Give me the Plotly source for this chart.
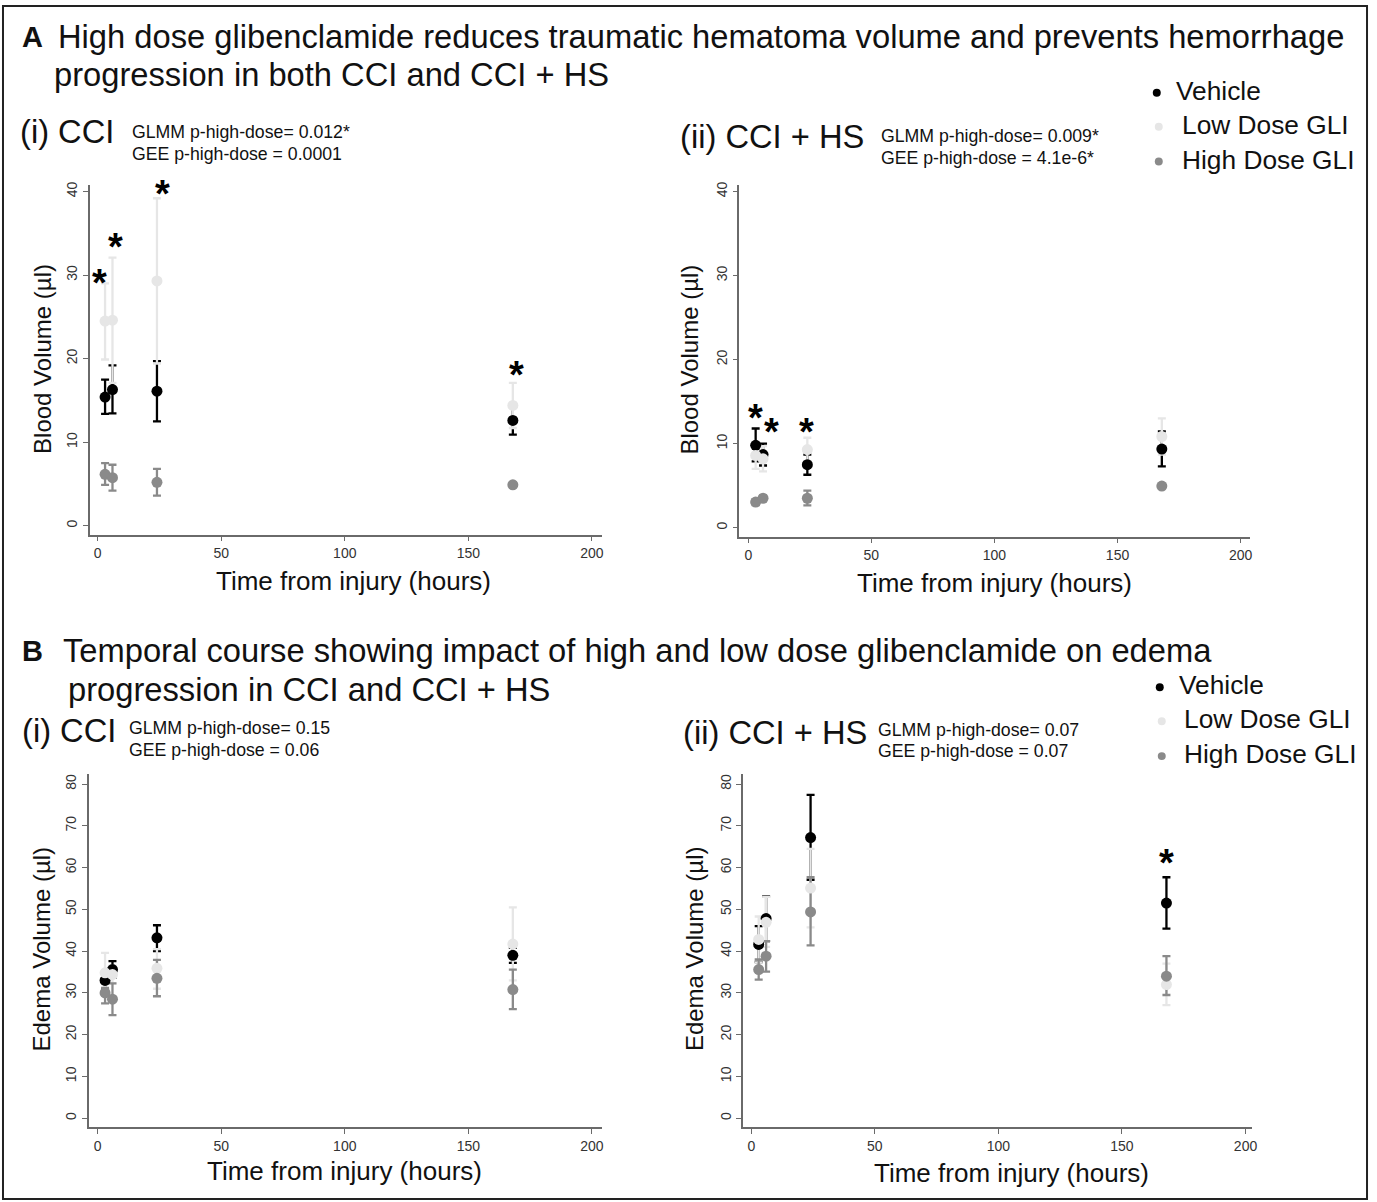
import plotly.graph_objects as go

W, H = 1377, 1202
FONT = "Liberation Sans, Arial, sans-serif"

# ---------------- data ----------------
times = [3, 6, 24, 168]
tick_x = [0, 50, 100, 150, 200]
tick_y_blood = [0, 10, 20, 30, 40]
tick_y_edema = [0, 10, 20, 30, 40, 50, 60, 70, 80]
groups = ["Vehicle", "Low Dose GLI", "High Dose GLI"]

# A (i) CCI - blood volume
a1_veh = [15.4, 16.3, 16.1, 12.6]
a1_veh_lo = [13.4, 13.45, 12.5, 10.9]
a1_veh_hi = [17.5, 19.2, 19.7, 14.3]
a1_low = [24.5, 24.6, 29.3, 14.4]
a1_low_lo = [19.9, 17.1, 19.4, 11.7]
a1_low_hi = [29.0, 32.1, 39.2, 17.1]
a1_high = [6.15, 5.75, 5.2, 4.9]
a1_high_lo = [4.9, 4.2, 3.6, 4.75]
a1_high_hi = [7.5, 7.3, 6.8, 5.05]
a1_star_t = [0.8, 7.3, 26.2, 169.4]
a1_star_v = [30.1, 34.5, 40.8, 19.1]

# A (ii) CCI + HS - blood volume
a2_veh = [9.8, 8.7, 7.5, 9.35]
a2_veh_lo = [7.9, 7.4, 6.3, 7.3]
a2_veh_hi = [11.8, 10.0, 8.7, 11.45]
a2_low = [8.6, 8.2, 9.3, 10.85]
a2_low_lo = [7.0, 6.7, 7.9, 8.7]
a2_low_hi = [10.1, 9.7, 10.7, 13.0]
a2_high = [3.05, 3.5, 3.5, 4.95]
a2_high_lo = [2.7, 3.2, 2.65, 4.8]
a2_high_hi = [3.4, 3.8, 4.4, 5.1]
a2_star_t = [2.8, 9.3, 23.5]
a2_star_v = [14.1, 12.5, 12.5]

# B (i) CCI - edema volume
b1_veh = [33.0, 35.6, 43.2, 39.0]
b1_veh_lo = [30.9, 33.6, 40.0, 37.2]
b1_veh_hi = [35.1, 37.6, 46.2, 40.8]
b1_low = [34.8, 34.4, 35.9, 41.7]
b1_low_lo = [30.0, 32.3, 31.0, 33.0]
b1_low_hi = [39.6, 36.5, 40.5, 50.5]
b1_high = [30.0, 28.5, 33.5, 30.8]
b1_high_lo = [27.5, 24.7, 29.2, 26.1]
b1_high_hi = [31.2, 32.3, 37.9, 35.6]
b1_star_t = []
b1_star_v = []

# B (ii) CCI + HS - edema volume
b2_veh = [41.6, 47.8, 67.2, 51.5]
b2_veh_lo = [37.4, 42.4, 57.1, 45.4]
b2_veh_hi = [46.0, 53.1, 77.4, 57.7]
b2_low = [42.8, 46.9, 55.1, 32.0]
b2_low_lo = [37.3, 41.0, 45.7, 27.1]
b2_low_hi = [48.3, 53.0, 64.5, 37.0]
b2_high = [35.6, 38.8, 49.4, 34.0]
b2_high_lo = [33.2, 35.1, 41.4, 29.5]
b2_high_hi = [38.0, 42.4, 57.7, 38.8]
b2_star_t = [168.1]
b2_star_v = [63.3]

COLORS = {"Vehicle": "#000000", "Low Dose GLI": "#e6e6e6", "High Dose GLI": "#8a8a8a"}
AXCOL = "#6a6a6a"


def px_x(p):
    return p / W


def px_y(p):
    return 1 - p / H


fig = go.Figure()

panels = [
    ("", [(a1_veh, a1_veh_lo, a1_veh_hi), (a1_low, a1_low_lo, a1_low_hi), (a1_high, a1_high_lo, a1_high_hi)],
     (a1_star_t, a1_star_v), (90, 604), (182, 533), (-3.23, 204.0), (-1.07, 40.84), tick_y_blood),
    ("2", [(a2_veh, a2_veh_lo, a2_veh_hi), (a2_low, a2_low_lo, a2_low_hi), (a2_high, a2_high_lo, a2_high_hi)],
     (a2_star_t, a2_star_v), (742, 1255), (182, 535), (-3.64, 204.0), (-1.07, 40.83), tick_y_blood),
    ("3", [(b1_veh, b1_veh_lo, b1_veh_hi), (b1_low, b1_low_lo, b1_low_hi), (b1_high, b1_high_lo, b1_high_hi)],
     (b1_star_t, b1_star_v), (89, 604), (773, 1127), (-3.63, 204.0), (-2.15, 82.4), tick_y_edema),
    ("4", [(b2_veh, b2_veh_lo, b2_veh_hi), (b2_low, b2_low_lo, b2_low_hi), (b2_high, b2_high_lo, b2_high_hi)],
     (b2_star_t, b2_star_v), (746, 1257), (773, 1127), (-3.23, 202.8), (-2.15, 82.4), tick_y_edema),
]

annotations = []
layout_axes = {}
for suf, series, stars, xd, yd, xr, yr, yt in panels:
    xa, ya = "x" + suf, "y" + suf
    for g, (m, lo, hi) in zip(groups, series):
        fig.add_trace(go.Scatter(
            x=times, y=m, mode="markers", xaxis=xa, yaxis=ya, showlegend=False,
            marker=dict(size=1, color="rgba(0,0,0,0)"), hoverinfo="skip",
            error_y=dict(type="data", symmetric=False,
                         array=[h - v for h, v in zip(hi, m)],
                         arrayminus=[v - l for v, l in zip(m, lo)],
                         color=COLORS[g], thickness=2.3, width=4)))
    for g, (m, lo, hi) in zip(groups, series):
        fig.add_trace(go.Scatter(
            x=times, y=m, mode="markers", xaxis=xa, yaxis=ya, name=g, showlegend=False,
            marker=dict(size=11, color=COLORS[g], line=dict(width=0))))
    for t, v in zip(*stars):
        annotations.append(dict(x=t, y=v, xref=xa, yref=ya, text="<b>*</b>", showarrow=False,
                                font=dict(family=FONT, size=38, color="#000"),
                                xanchor="center", yanchor="middle", yshift=-9))
    common = dict(showline=True, linecolor=AXCOL, linewidth=1.6, ticks="outside",
                  tickcolor=AXCOL, ticklen=5, tickwidth=1.4, showgrid=False, zeroline=False,
                  tickfont=dict(family=FONT, size=14, color="#333"))
    layout_axes["xaxis" + suf] = dict(domain=[px_x(xd[0]), px_x(xd[1])], range=list(xr),
                                      anchor=ya, tickvals=tick_x, **common)
    layout_axes["yaxis" + suf] = dict(domain=[px_y(yd[1]), px_y(yd[0])], range=list(yr),
                                      anchor=xa, tickvals=yt, tickangle=-90, **common)


def txt(x, y, s, size, anchor="left", bold=False, angle=0, color="#111"):
    if angle == 0:
        y = y - 2
    annotations.append(dict(x=px_x(x), y=px_y(y), xref="paper", yref="paper",
                            text=("<b>%s</b>" % s) if bold else s,
                            showarrow=False, xanchor=anchor, yanchor="middle", textangle=angle,
                            font=dict(family=FONT, size=size, color=color)))


TS = 32.7
SS = 17.7
LS = 26.3

# Panel A headings
txt(20, 36, "A", 29, bold=True)
txt(56, 36, "High dose glibenclamide reduces traumatic hematoma volume and prevents hemorrhage", TS)
txt(52, 74, "progression in both CCI and CCI + HS", TS)
txt(18, 131, "(i) CCI", TS)
txt(130, 131, "GLMM p-high-dose= 0.012*", SS)
txt(130, 153, "GEE p-high-dose = 0.0001", SS)
txt(680, 136, "(ii) CCI + HS", TS)
txt(882, 135, "GLMM p-high-dose= 0.009*", SS)
txt(882, 157, "GEE p-high-dose = 4.1e-6*", SS)

# Panel B headings
txt(20, 652, "B", 29, bold=True)
txt(61, 651, "Temporal course showing impact of high and low dose glibenclamide on edema", TS)
txt(66, 690, "progression in CCI and CCI + HS", TS)
txt(20, 731, "(i) CCI", TS)
txt(127, 729, "GLMM p-high-dose= 0.15", SS)
txt(127, 751, "GEE p-high-dose = 0.06", SS)
txt(683, 733, "(ii) CCI + HS", TS)
txt(879, 731, "GLMM p-high-dose= 0.07", SS)
txt(879, 752, "GEE p-high-dose = 0.07", SS)

# axis titles
txt(42, 357, "Blood Volume (µl)", 24, anchor="center", angle=-90)
txt(692, 357, "Blood Volume (µl)", 24, anchor="center", angle=-90)
txt(42, 948, "Edema Volume (µl)", 24, anchor="center", angle=-90)
txt(697, 948, "Edema Volume (µl)", 24, anchor="center", angle=-90)
txt(355, 581, "Time from injury (hours)", 26, anchor="center")
txt(998, 583, "Time from injury (hours)", 26, anchor="center")
txt(346, 1173, "Time from injury (hours)", 26, anchor="center")
txt(1015, 1175, "Time from injury (hours)", 26, anchor="center")

shapes = []
for (dx, dy, tx), g in zip([(1161, 90, 1178), (1163, 124, 1184), (1163, 159, 1184)], groups):
    r = 4
    shapes.append(dict(type="circle", xref="paper", yref="paper", x0=px_x(dx - r), x1=px_x(dx + r),
                       y0=px_y(dy + r), y1=px_y(dy - r), fillcolor=COLORS[g], line=dict(width=0)))
    txt(tx, dy, g, LS)
for (dx, dy, tx), g in zip([(1164, 686, 1181), (1166, 720, 1186), (1166, 755, 1186)], groups):
    r = 4
    shapes.append(dict(type="circle", xref="paper", yref="paper", x0=px_x(dx - r), x1=px_x(dx + r),
                       y0=px_y(dy + r), y1=px_y(dy - r), fillcolor=COLORS[g], line=dict(width=0)))
    txt(tx, dy, g, LS)

shapes.append(dict(type="rect", xref="paper", yref="paper", x0=px_x(3), x1=px_x(1372),
                   y0=px_y(1199), y1=px_y(3), line=dict(color="#222", width=2)))

fig.update_layout(width=W, height=H, margin=dict(l=0, r=0, t=0, b=0),
                  paper_bgcolor="white", plot_bgcolor="white", showlegend=False,
                  annotations=annotations, shapes=shapes, **layout_axes)

fig.write_html("out.html", config={"displayModeBar": False},
               post_script="document.body.style.margin='0';")
